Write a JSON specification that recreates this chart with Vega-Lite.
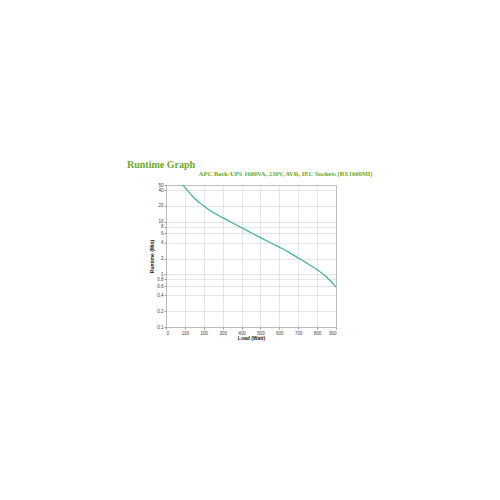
{
  "$schema": "https://vega.github.io/schema/vega-lite/v6.json",
  "width": 170,
  "height": 142,
  "autosize": "none",
  "padding": {"left": 166, "top": 185, "right": 164, "bottom": 173},
  "background": "white",
  "title": {
    "text": "Runtime Graph",
    "anchor": "start",
    "frame": "group",
    "dx": -39,
    "offset": 0,
    "font": "Liberation Serif",
    "fontSize": 10,
    "fontWeight": "bold",
    "color": "#6aa82e"
  },
  "config": {
    "view": {"stroke": "#9a9a9a", "strokeWidth": 1},
    "axis": {
      "labelFont": "Liberation Sans",
      "titleFont": "Liberation Sans",
      "labelFontSize": 4.5,
      "titleFontSize": 5,
      "labelColor": "#444",
      "titleColor": "#222",
      "gridColor": "#d4d4d4",
      "gridWidth": 0.6,
      "tickColor": "#999",
      "tickSize": 2,
      "domain": false,
      "labelPadding": 1
    }
  },
  "data": {
    "values": [
      {"load": 88, "runtime": 50},
      {"load": 100, "runtime": 45},
      {"load": 150, "runtime": 28},
      {"load": 200, "runtime": 20},
      {"load": 250, "runtime": 15},
      {"load": 300, "runtime": 12},
      {"load": 350, "runtime": 9.6},
      {"load": 400, "runtime": 7.7},
      {"load": 450, "runtime": 6.2},
      {"load": 500, "runtime": 5.0},
      {"load": 550, "runtime": 4.05},
      {"load": 600, "runtime": 3.3},
      {"load": 650, "runtime": 2.65},
      {"load": 700, "runtime": 2.05},
      {"load": 750, "runtime": 1.6},
      {"load": 800, "runtime": 1.23},
      {"load": 850, "runtime": 0.89},
      {"load": 900, "runtime": 0.57}
    ]
  },
  "resolve": {"axis": {"x": "independent"}},
  "layer": [
    {
      "mark": {"type": "line", "color": "#3db38e", "strokeWidth": 1.2, "interpolate": "monotone", "clip": true},
      "encoding": {
        "x": {
          "field": "load",
          "type": "quantitative",
          "scale": {"domain": [0, 900], "nice": false},
          "axis": {
            "values": [0, 100, 200, 300, 400, 500, 600, 700, 800, 900],
            "title": "Load (Watt)",
            "titleFontWeight": "bold",
            "titlePadding": 1
          }
        },
        "y": {
          "field": "runtime",
          "type": "quantitative",
          "scale": {"type": "log", "domain": [0.1, 50], "nice": false},
          "axis": {
            "values": [0.1, 0.2, 0.4, 0.6, 0.8, 1, 2, 4, 6, 8, 10, 20, 40, 50],
            "format": "~g",
            "title": "Runtime (Min)",
            "titleFontWeight": "bold",
            "titlePadding": 2
          }
        }
      }
    },
    {
      "mark": {"type": "line", "opacity": 0},
      "encoding": {
        "x": {
          "field": "load",
          "type": "quantitative",
          "axis": {
            "orient": "top",
            "labels": false,
            "ticks": false,
            "grid": false,
            "domain": false,
            "title": "APC Back-UPS 1600VA, 230V, AVR, IEC Sockets (BX1600MI)",
            "titleFont": "Liberation Serif",
            "titleFontSize": 6.5,
            "titleFontWeight": "bold",
            "titleColor": "#6aa82e",
            "titleAnchor": "end",
            "titleAlign": "right",
            "titleBaseline": "alphabetic",
            "titleX": 206,
            "titleY": -10
          }
        },
        "y": {"field": "runtime", "type": "quantitative"}
      }
    }
  ]
}
